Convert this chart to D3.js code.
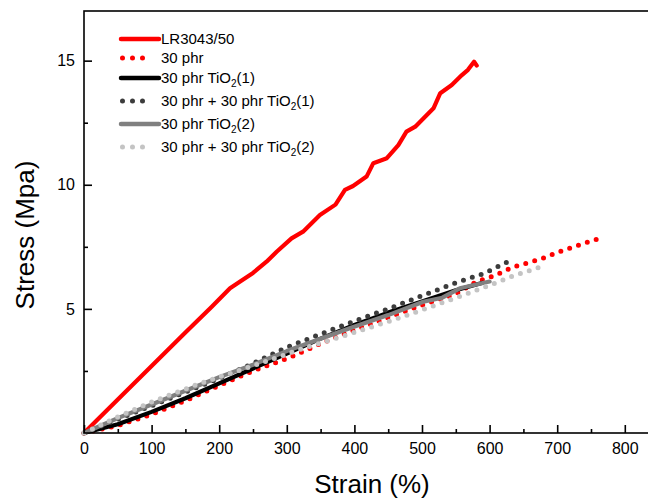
<!DOCTYPE html>
<html><head><meta charset="utf-8">
<script src="https://cdn.jsdelivr.net/npm/d3@7"></script>
<style>html,body{margin:0;padding:0;background:#fff;overflow:hidden}svg{display:block;font-family:"Liberation Sans",Arial,sans-serif}</style>
</head><body><svg id="c" width="648" height="502"></svg>
<script>
// ---- data (strain %, stress MPa) ----
const lrStrain = [0,50,100,150,189,216,231,250,270,285,307,324,349,372,386,398,418,428,448,465,477,490,517,527,544,559,568,577,581];
const lrStress = [0,1.35,2.7,4.05,5.09,5.83,6.1,6.45,6.9,7.3,7.84,8.11,8.78,9.2,9.79,9.95,10.33,10.87,11.07,11.6,12.14,12.34,13.08,13.69,14.02,14.42,14.63,14.96,14.8];

const p30Strain = [0,50,100,150,201,250,305,350,400,450,500,550,581,608,634,675,703,743,770];
const p30Stress = [0,0.3,0.75,1.3,1.93,2.5,3.05,3.6,4.15,4.65,5.15,5.6,6.1,6.34,6.68,7.0,7.3,7.67,7.9];

const t1Strain = [0,50,100,150,200,250,300,350,400,450,500,550,590];
const t1Stress = [0,0.35,0.85,1.4,2.0,2.6,3.2,3.8,4.35,4.85,5.3,5.75,6.05];

const pt1Strain = [0,50,100,150,200,250,300,328,370,420,448,499,551,592,627];
const pt1Stress = [0,0.55,1.1,1.65,2.2,2.8,3.45,3.75,4.2,4.71,4.98,5.52,6.06,6.43,6.9];

const t2Strain = [0,50,100,150,200,250,300,350,393,450,502,530,556,600];
const t2Stress = [0,0.6,1.15,1.7,2.25,2.75,3.3,3.8,4.22,4.75,5.29,5.45,5.83,6.1];

const pt2Strain = [0,50,100,172,246,329,400,465,558,600,635,662,676];
const pt2Stress = [0,0.65,1.25,2.0,2.67,3.45,4.05,4.62,5.52,5.95,6.33,6.57,6.7];

const seriesNames = ["LR3043/50","30 phr","30 phr TiO|2|(1)","30 phr + 30 phr TiO|2|(1)","30 phr TiO|2|(2)","30 phr + 30 phr TiO|2|(2)"];
const xTickValues = [0,100,200,300,400,500,600,700,800];
const yTickValues = [5,10,15];

// ---- styles ----
const styles = [
  {color:"#ff0000", dotted:false},
  {color:"#ff0000", dotted:true},
  {color:"#000000", dotted:false},
  {color:"#3c3c3c", dotted:true},
  {color:"#808080", dotted:false},
  {color:"#c4c4c4", dotted:true}
];
const seriesData = [
  [lrStrain, lrStress],[p30Strain,p30Stress],[t1Strain,t1Stress],
  [pt1Strain,pt1Stress],[t2Strain,t2Stress],[pt2Strain,pt2Stress]
].map(([xs,ys]) => xs.map((x,i)=>({x, y:ys[i]})));

const svg = d3.select("#c");
const x = d3.scaleLinear().domain([0,850]).range([84, 84+850*0.676]);
const y = d3.scaleLinear().domain([0,17]).range([433, 11]);

// curves
const line = d3.line().x(d=>x(d.x)).y(d=>y(d.y));
const gCurves = svg.append("g");
seriesData.forEach((d,i)=>{
  const s = styles[i];
  gCurves.append("path").datum(d).attr("d", line)
    .attr("fill","none").attr("stroke", s.color)
    .attr("stroke-width", s.dotted ? 5 : 4.2)
    .attr("stroke-linecap","round").attr("stroke-linejoin","round")
    .attr("stroke-dasharray", s.dotted ? "0 9.3" : null);
});

// frame
svg.append("rect").attr("x", x(0)).attr("y", y(17)).attr("width", x(850)-x(0)).attr("height", y(0)-y(17))
  .attr("fill","none").attr("stroke","#000").attr("stroke-width",1.6);

// axes (ticks inward)
const xAxis = d3.axisBottom(x).tickValues(xTickValues).tickFormat(d3.format("d")).tickSizeInner(-8).tickSizeOuter(0).tickPadding(10);
const gx = svg.append("g").attr("transform",`translate(0,${y(0)})`).call(xAxis);
const xMinor = d3.axisBottom(x).tickValues(d3.range(50,850,100)).tickFormat("").tickSizeInner(-4).tickSizeOuter(0);
const gxm = svg.append("g").attr("transform",`translate(0,${y(0)})`).call(xMinor);

const yAxis = d3.axisLeft(y).tickValues(yTickValues).tickFormat(d3.format("d")).tickSizeInner(-8).tickSizeOuter(0).tickPadding(9);
const gy = svg.append("g").attr("transform",`translate(${x(0)},0)`).call(yAxis);
const yMinor = d3.axisLeft(y).tickValues([2.5,7.5,12.5]).tickFormat("").tickSizeInner(-4).tickSizeOuter(0);
const gym = svg.append("g").attr("transform",`translate(${x(0)},0)`).call(yMinor);

[gx,gxm,gy,gym].forEach(g=>{
  g.select(".domain").remove();
  g.selectAll(".tick line").attr("stroke","#000").attr("stroke-width",1.6);
  g.selectAll(".tick text").attr("font-size",16).attr("fill","#000").attr("font-family","Liberation Sans, Arial, sans-serif");
});

// axis titles
svg.append("text").attr("x", 372).attr("y", 493).attr("text-anchor","middle")
  .attr("font-size",26).text("Strain (%)");
svg.append("text").attr("transform","translate(34,235) rotate(-90)").attr("text-anchor","middle")
  .attr("font-size",26).text("Stress (Mpa)");

// legend
const legY = [39, 58, 78, 101, 124, 147];
const leg = svg.append("g");
seriesNames.forEach((name,i)=>{
  const s = styles[i];
  const yy = legY[i];
  if (s.dotted) {
    leg.append("line").attr("x1",122.5).attr("x2",152.5).attr("y1",yy).attr("y2",yy)
      .attr("stroke",s.color).attr("stroke-width",5).attr("stroke-linecap","round").attr("stroke-dasharray","0 10");
  } else {
    leg.append("line").attr("x1",121).attr("x2",159).attr("y1",yy).attr("y2",yy)
      .attr("stroke",s.color).attr("stroke-width",4.5).attr("stroke-linecap","round");
  }
  const parts = name.split("|");
  const t = leg.append("text").attr("x",161).attr("y",yy+5).attr("font-size",15).attr("fill","#000");
  parts.forEach((p,j)=>{
    if (j===1) t.append("tspan").attr("font-size",10).attr("dy",4).text(p);
    else if (j===2) t.append("tspan").attr("dy",-4).text(p);
    else t.append("tspan").text(p);
  });
});
</script></body></html>
